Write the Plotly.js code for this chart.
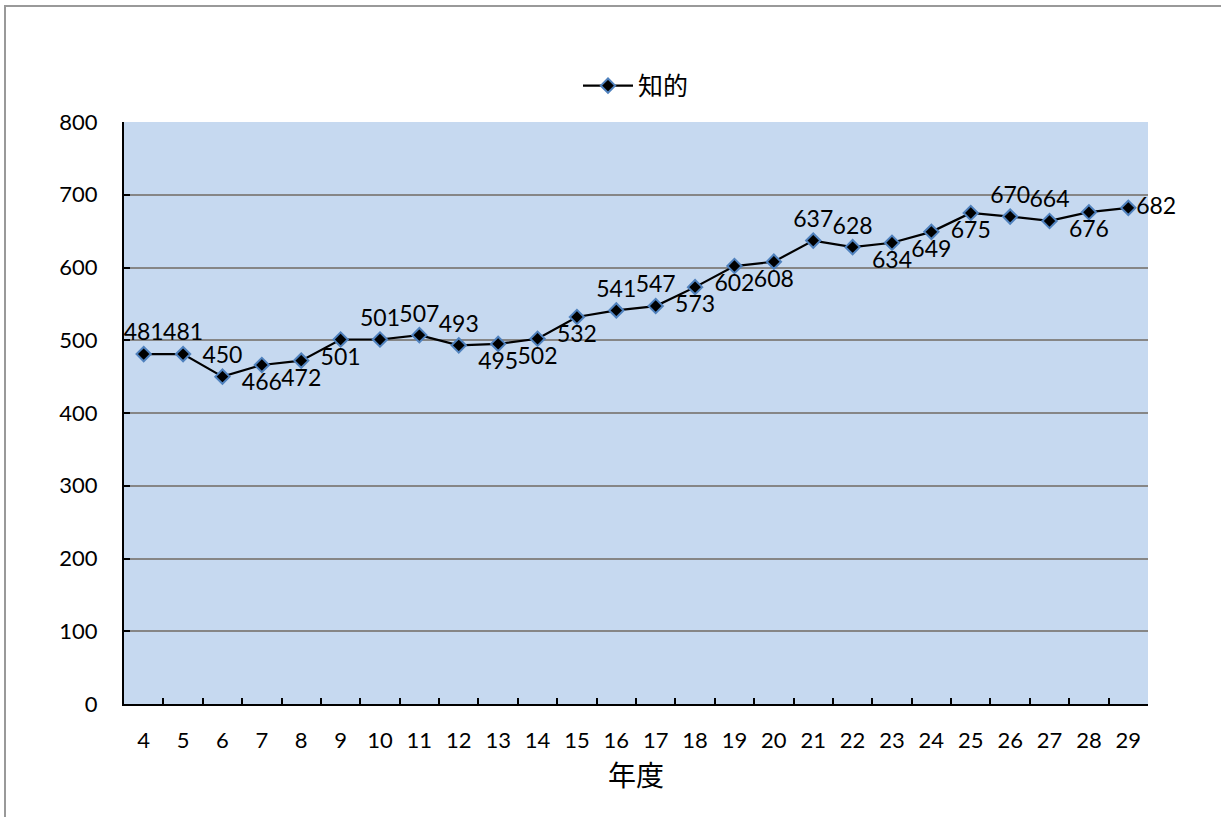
<!DOCTYPE html>
<html><head><meta charset="utf-8">
<script src="https://cdn.plot.ly/plotly-3.0.1.min.js"></script>
<style>
html,body{margin:0;padding:0;background:#fff;overflow:hidden}
#frame{position:absolute;left:4px;top:5px;width:1240px;height:840px;border:2px solid #999;box-sizing:border-box}
#chart{position:absolute;left:0;top:0;width:1221px;height:817px}
</style></head>
<body>
<div id="frame"></div>
<div id="chart"></div>
<script>
const years = ['4','5','6','7','8','9','10','11','12','13','14','15','16','17','18','19','20','21','22','23','24','25','26','27','28','29'];
const values = [481,481,450,466,472,501,501,507,493,495,502,532,541,547,573,602,608,637,628,634,649,675,670,664,676,682];
const labelPos = ['top center','top center','top center','bottom center','bottom center','bottom center','top center','top center','top center','bottom center','bottom center','bottom center','top center','top center','bottom center','bottom center','bottom center','top center','top center','bottom center','bottom center','bottom center','top center','top center','bottom center','middle right'];
const seriesName = '知的';
const yTicks = [0,100,200,300,400,500,600,700,800];
const FONT = 'Lato, "Noto Sans CJK JP", sans-serif';

const trace = {
  x: years, y: values, name: seriesName, type: 'scatter', mode: 'lines+markers+text',
  line: {color: '#000', width: 2.2},
  marker: {symbol: 'diamond', size: 11, color: '#000', line: {color: '#4F81BD', width: 2}},
  text: values.map(String), textposition: labelPos,
  textfont: {family: FONT, size: 23, color: '#000'},
  cliponaxis: false
};

const layout = {
  width: 1221, height: 817,
  margin: {l: 124, r: 73, t: 122, b: 113},
  paper_bgcolor: 'rgba(0,0,0,0)', plot_bgcolor: '#C6D9F0',
  font: {family: FONT, color: '#000'},
  showlegend: true,
  legend: {orientation: 'h', x: 0.5, xanchor: 'center', y: 1.062, yanchor: 'middle', font: {size: 25}, itemwidth: 50},
  xaxis: {
    type: 'category', range: [-0.5, 25.5], tickson: 'boundaries', ticks: 'inside', ticklen: 6, tickwidth: 2, tickcolor: '#000',
    showline: true, linecolor: '#000', linewidth: 2, showgrid: false, mirror: false,
    tickfont: {size: 22}, ticklabelstandoff: 16,
    title: {text: '年度', font: {size: 28}, standoff: 14}
  },
  yaxis: {
    range: [0, 800], tickvals: yTicks, ticks: 'inside', ticklen: 6, tickwidth: 2, tickcolor: '#000',
    showline: true, linecolor: '#000', linewidth: 2, showgrid: true, gridcolor: '#868686', gridwidth: 1.5,
    zeroline: false, tickfont: {size: 22}, ticklabelstandoff: 20
  }
};
Plotly.newPlot('chart', [trace], layout, {displayModeBar: false});
</script>
</body></html>
